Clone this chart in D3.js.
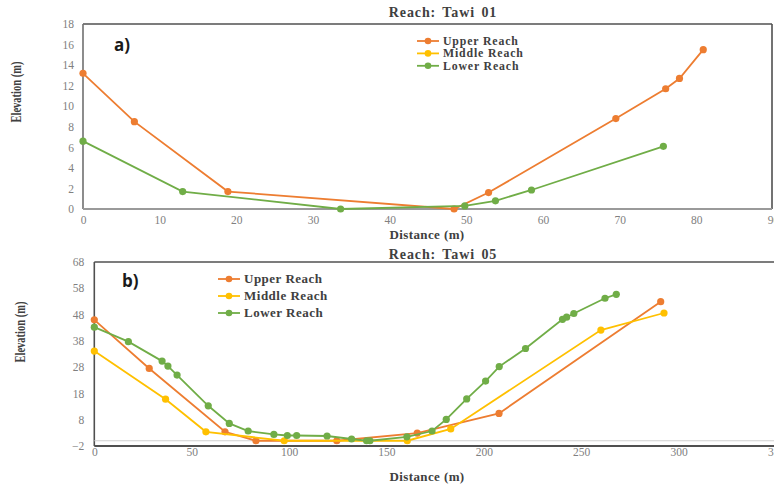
<!DOCTYPE html>
<html>
<head>
<meta charset="utf-8">
<script src="https://cdn.jsdelivr.net/npm/d3@7"></script>
<style>
  html, body { margin: 0; padding: 0; background: #fff; }
  svg { display: block; }
</style>
</head>
<body>
<svg id="chart" width="774" height="484"></svg>
<script>
// ---- Cross-section data: Tawi 01 (distance m, elevation m) ----
const tawi01Upper  = [[0, 13.2], [6.7, 8.5], [18.9, 1.7], [48.4, 0], [52.9, 1.6], [69.5, 8.8], [76.0, 11.7], [77.8, 12.7], [80.9, 15.5]];
const tawi01Middle = [];
const tawi01Lower  = [[0, 6.6], [13.0, 1.7], [33.6, 0], [49.8, 0.3], [53.8, 0.8], [58.5, 1.85], [75.7, 6.1]];

// ---- Cross-section data: Tawi 05 ----
const tawi05Upper  = [[0, 46], [28.2, 27.5], [67.1, 3.4], [83, 0], [124.5, 0], [165.8, 2.9], [207.8, 10.4], [290.8, 52.9]];
const tawi05Middle = [[0, 34.1], [36.6, 15.8], [57.3, 3.4], [97.5, 0], [160.7, 0], [183, 4.5], [260.1, 42.1], [292.5, 48.6]];
const tawi05Lower  = [[0, 43.2], [17.5, 37.7], [34.8, 30.3], [37.8, 28.4], [42.5, 25], [58.5, 13.3], [69.3, 6.6], [79, 3.7],
                      [92.2, 2.4], [99.1, 2.0], [103.9, 2.0], [119.5, 1.8], [132.1, 0.66], [139.8, 0], [141.5, 0], [160.5, 1.5],
                      [173.4, 3.7], [180.7, 8.1], [191.2, 15.9], [200.9, 22.7], [207.9, 28.2], [221.4, 35.1], [240.4, 46.2],
                      [242.5, 47.0], [246.2, 48.4], [262.2, 54.2], [268, 55.7]];

const seriesNames = ["Upper Reach", "Middle Reach", "Lower Reach"];
const seriesColors = ["#ED7D31", "#FFC000", "#70AD47"];

const ticksA_x = d3.range(0, 91, 10);
const ticksA_y = d3.range(0, 19, 2);
const ticksB_x = d3.range(0, 351, 50);
const ticksB_y = d3.range(-2, 69, 10);

const svg = d3.select("#chart");
const serif = "'Liberation Serif', 'Times New Roman', serif";
const tickColor = "#808080";
const titleColor = "#404040";

function panel(cfg) {
  const g = svg.append("g");
  const x = d3.scaleLinear().domain(cfg.xDomain).range(cfg.xRange);
  const y = d3.scaleLinear().domain(cfg.yDomain).range(cfg.yRange);
  const [x0, x1] = cfg.xRange;
  const [yb, yt] = cfg.yRange;

  // plot frame
  g.append("line").attr("x1", x0).attr("x2", cfg.frameRight).attr("y1", yt).attr("y2", yt)
    .attr("stroke", "#505050").attr("stroke-width", 1.6);
  g.append("line").attr("x1", x0).attr("x2", x0).attr("y1", yt).attr("y2", yb)
    .attr("stroke", cfg.leftColor).attr("stroke-width", 1.6);
  if (cfg.rightBorder) {
    g.append("line").attr("x1", cfg.frameRight).attr("x2", cfg.frameRight).attr("y1", yt).attr("y2", yb)
      .attr("stroke", "#505050").attr("stroke-width", 1.6);
  }
  if (cfg.zeroLine) {
    g.append("line").attr("x1", x0).attr("x2", 774).attr("y1", y(0)).attr("y2", y(0))
      .attr("stroke", "#d0d0d0").attr("stroke-width", 1.2);
  }

  // y axis labels
  const yAxis = d3.axisLeft(y).tickValues(cfg.yTicks).tickSize(0).tickPadding(cfg.yPad);
  const ya = g.append("g").attr("transform", `translate(${x0},0)`).call(yAxis);
  ya.select(".domain").remove();
  ya.selectAll("text").attr("fill", tickColor).style("font-family", serif).style("font-size", "11.5px");

  // x axis
  const xAxis = d3.axisBottom(x).tickValues(cfg.xTicks).tickSize(0).tickPadding(cfg.xPad);
  const xa = g.append("g").attr("transform", `translate(0,${yb})`).call(xAxis);
  xa.select(".domain").attr("stroke", cfg.bottomColor).attr("stroke-width", 2)
    .attr("d", `M${x0},0H${cfg.frameRight}`);
  xa.selectAll("text").attr("fill", tickColor).style("font-family", serif).style("font-size", "11.5px");

  // series lines and markers
  const line = d3.line().x(d => x(d[0])).y(d => y(d[1]));
  cfg.series.forEach((data, i) => {
    if (!data.length) return;
    g.append("path").datum(data).attr("d", line).attr("fill", "none")
      .attr("stroke", seriesColors[i]).attr("stroke-width", 1.8);
    g.selectAll(null).data(data).enter().append("circle")
      .attr("cx", d => x(d[0])).attr("cy", d => y(d[1])).attr("r", 3.6)
      .attr("fill", seriesColors[i]);
  });

  // chart title
  g.append("text").attr("x", cfg.titleX).attr("y", cfg.titleY).attr("text-anchor", "middle")
    .attr("fill", titleColor).style("font-family", serif).style("font-weight", "bold")
    .style("font-size", "14px").style("letter-spacing", "0.9px").style("word-spacing", "2px")
    .text(cfg.title);

  // axis titles
  g.append("text").attr("x", cfg.xTitleX).attr("y", cfg.xTitleY).attr("text-anchor", "middle")
    .attr("fill", titleColor).style("font-family", serif).style("font-weight", "bold")
    .style("font-size", "13px").style("letter-spacing", "0.4px").text("Distance (m)");
  g.append("text").attr("transform", `translate(${cfg.yTitleX},${cfg.yTitleY}) rotate(-90)`)
    .attr("text-anchor", "middle").attr("fill", titleColor)
    .attr("textLength", 61).attr("lengthAdjust", "spacingAndGlyphs")
    .style("font-family", serif).style("font-weight", "bold").style("font-size", "14.5px")
    .text("Elevation (m)");

  // panel tag
  g.append("text").attr("x", cfg.tagX).attr("y", cfg.tagY).attr("fill", "#1a1a1a")
    .style("font-family", "'Open Sans', 'Liberation Sans', sans-serif").style("font-weight", "bold")
    .style("font-size", "17px").text(cfg.tag);

  // legend
  const lg = g.append("g").attr("transform", `translate(${cfg.legX},${cfg.legY})`);
  seriesNames.forEach((name, i) => {
    const row = lg.append("g").attr("transform", `translate(0,${i * cfg.legStep})`);
    row.append("line").attr("x1", 0).attr("x2", 22).attr("y1", 0).attr("y2", 0)
      .attr("stroke", seriesColors[i]).attr("stroke-width", 1.8);
    row.append("circle").attr("cx", 11).attr("cy", 0).attr("r", 3.3).attr("fill", seriesColors[i]);
    row.append("text").attr("x", 26).attr("y", 0).attr("dy", "0.34em").attr("fill", titleColor)
      .style("font-family", serif).style("font-weight", "bold").style("font-size", cfg.legFont)
      .style("letter-spacing", cfg.legSpacing).text(name);
  });
}

panel({
  xDomain: [0, 90], xRange: [83, 773], yDomain: [0, 18], yRange: [209, 24],
  frameRight: 772, rightBorder: true, zeroLine: false,
  leftColor: "#707070", bottomColor: "#9a9a9a",
  xTicks: ticksA_x, yTicks: ticksA_y, xPad: 7, yPad: 9,
  series: [tawi01Upper, tawi01Middle, tawi01Lower],
  title: "Reach: Tawi 01", titleX: 443, titleY: 17,
  xTitleX: 427, xTitleY: 238.5, yTitleX: 21, yTitleY: 92,
  tag: "a)", tagX: 114, tagY: 51,
  legX: 417, legY: 41, legStep: 12.4, legFont: "11.8px", legSpacing: "0.85px"
});

panel({
  xDomain: [0, 350], xRange: [94.3, 776], yDomain: [-2, 68], yRange: [446, 262],
  frameRight: 776, rightBorder: false, zeroLine: true,
  leftColor: "#505050", bottomColor: "#505050",
  xTicks: ticksB_x, yTicks: ticksB_y, xPad: 2, yPad: 10,
  series: [tawi05Upper, tawi05Middle, tawi05Lower],
  title: "Reach: Tawi 05", titleX: 443, titleY: 259,
  xTitleX: 427, xTitleY: 481, yTitleX: 25, yTitleY: 332,
  tag: "b)", tagX: 122, tagY: 287,
  legX: 218, legY: 279, legStep: 17, legFont: "13px", legSpacing: "0.5px"
});
</script>
</body>
</html>
